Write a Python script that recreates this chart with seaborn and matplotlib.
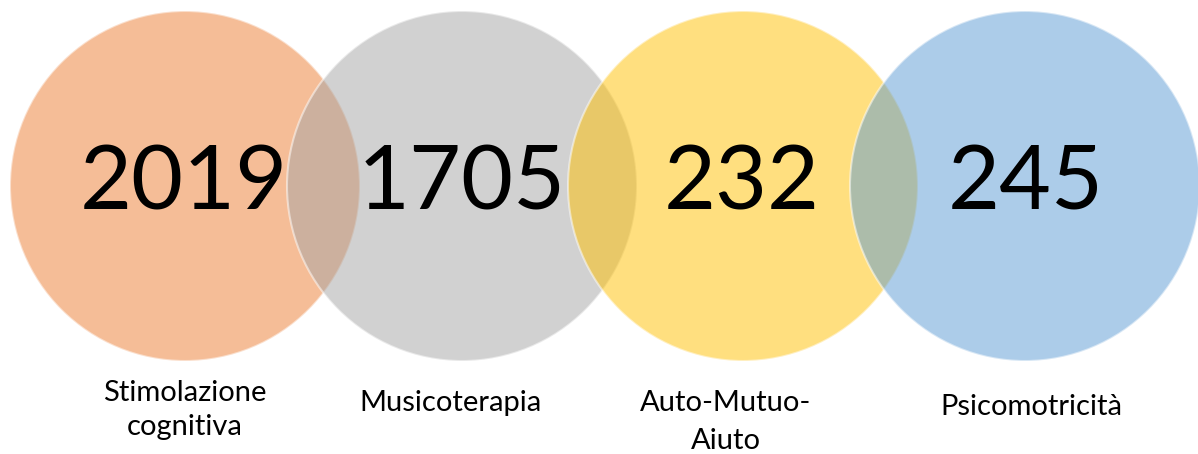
import matplotlib
matplotlib.use("Agg")
import matplotlib.pyplot as plt
import seaborn as sns
import pandas as pd

categories = ["Stimolazione\ncognitiva", "Musicoterapia", "Auto-Mutuo-\nAiuto", "Psicomotricità"]
values = [2019, 1705, 232, 245]
colors = ["#ED7D31", "#A5A5A5", "#FFC000", "#5B9BD5"]

sns.set_theme(style="white")
plt.rcParams['font.family'] = ['Lato', 'DejaVu Sans']

W, H = 1198, 454
fig = plt.figure(figsize=(W / 100, H / 100), dpi=100)
ax = fig.add_axes([0, 0, 1, 1])

centers_x = [185, 462, 743, 1025]
center_y = 186
radius = 175
df = pd.DataFrame({"cat": categories, "x": centers_x, "y": [center_y] * 4})

diam_pt = 2 * radius * 72 / 100
sns.scatterplot(data=df, x="x", y="y", hue="cat", palette=colors, s=diam_pt ** 2,
                alpha=0.5, edgecolor="white", linewidth=1.5, legend=False, ax=ax)

ax.set_xlim(0, W)
ax.set_ylim(H, 0)
ax.axis("off")

num_x = [184, 462, 742, 1026]
label_x = [185, 450, 726, 1031]
label_y = [410, 403, 422, 407]
label_ls = [1.4, 1.2, 1.6, 1.2]
for nx, lx, v, lab, ly, ls in zip(num_x, label_x, values, categories, label_y, label_ls):
    ax.text(nx, center_y - 2, str(v), ha="center", va="center", fontsize=64.5, color="black")
    ax.text(lx, ly, lab, ha="center", va="center",
            fontsize=21, color="black", linespacing=ls)

fig.savefig("out.png", dpi=100)
